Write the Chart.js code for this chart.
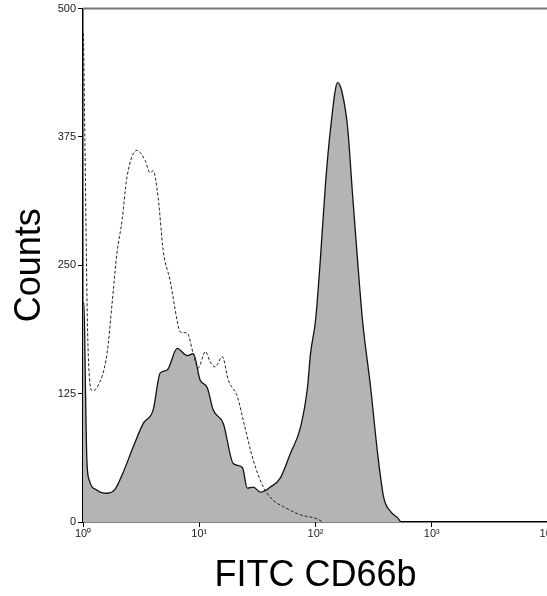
<!DOCTYPE html>
<html>
<head>
<meta charset="utf-8">
<script src="https://cdn.jsdelivr.net/npm/chart.js@4/dist/chart.umd.min.js"></script>
<style>
  html, body { margin: 0; padding: 0; background: #fff; overflow: hidden; }
  #wrap { position: absolute; left: 0; top: 0; width: 600px; height: 596px; }
</style>
</head>
<body>
<div id="wrap"><canvas id="hist"></canvas></div>
<script>
// CD66b stained sample (filled histogram)
const stainedX = [1.0, 1.02, 1.05, 1.08, 1.13, 1.32, 1.61, 1.89, 2.21, 2.7, 3.3, 4.01, 4.61, 5.3, 6.46, 7.88, 8.88, 10.2, 11.7, 13.2, 16.1, 19.6, 23.5, 25.9, 29.2, 33.6, 40.9, 49.9, 60.9, 74.2, 85.3, 90.6, 100, 110, 122, 135, 155, 168, 189, 208, 230, 254, 298, 342, 386, 443, 509, 541];
const stainedY = [213, 213, 130, 60, 41, 31, 28, 32, 48, 73, 96, 109, 145, 148, 169, 162, 164, 138, 131, 109, 96, 57, 53, 33, 34, 29, 34, 43, 67, 92, 131, 164, 196, 255, 330, 384, 428, 420, 384, 320, 255, 196, 131, 67, 24, 10, 4, 0];

// isotype control (dashed line)
const controlX = [1.01, 1.04, 1.1, 1.2, 1.32, 1.61, 1.78, 1.96, 2.17, 2.39, 2.92, 3.42, 3.78, 4.01, 4.43, 4.9, 5.62, 6.46, 6.86, 7.88, 8.88, 9.8, 11.3, 12.4, 13.7, 15.8, 17.8, 21.3, 23.9, 29.2, 35.6, 43.4, 53.0, 74.2, 104, 115];
const controlY = [476, 365, 177, 128, 131, 164, 213, 262, 294, 336, 362, 352, 340, 342, 316, 264, 235, 196, 185, 184, 164, 150, 166, 156, 151, 161, 138, 122, 99, 60, 34, 21, 15, 7, 3, 0];

const xTicks = [1, 10, 100, 1000, 10000];
const yTicks = [0, 125, 250, 375, 500];
const sup = ["\u2070", "\u00b9", "\u00b2", "\u00b3", "\u2074"];

const toPts = (xs, ys) => xs.map((x, i) => ({ x: x, y: ys[i] }));

const frame = {
  id: "frame",
  afterDraw(chart) {
    const a = chart.chartArea;
    const ctx = chart.ctx;
    ctx.save();
    ctx.strokeStyle = "#777";
    ctx.lineWidth = 2;
    ctx.beginPath();
    ctx.moveTo(a.left, a.top);
    ctx.lineTo(a.right, a.top);
    ctx.stroke();
    ctx.restore();
  }
};

const tickFont = { family: "Arial, 'Liberation Sans', sans-serif", size: 11 };
const titleFont = { family: "Arial, 'Liberation Sans', sans-serif", size: 36 };

new Chart(document.getElementById("hist"), {
  type: "line",
  data: {
    datasets: [
      {
        label: "Isotype",
        data: toPts(controlX, controlY),
        borderColor: "#222",
        borderWidth: 1,
        borderDash: [3, 2],
        fill: false,
        pointRadius: 0,
        cubicInterpolationMode: "monotone",
        order: 0
      },
      {
        label: "CD66b",
        data: toPts(stainedX, stainedY),
        borderColor: "#111",
        borderWidth: 1.3,
        backgroundColor: "#b4b4b4",
        fill: "origin",
        pointRadius: 0,
        cubicInterpolationMode: "monotone",
        order: 1
      }
    ]
  },
  options: {
    responsive: true,
    maintainAspectRatio: false,
    animation: false,
    layout: { padding: { left: 0, right: 52, top: 8, bottom: 0 } },
    plugins: { legend: { display: false }, tooltip: { enabled: false } },
    scales: {
      x: {
        type: "logarithmic",
        min: 1,
        max: 10000,
        afterBuildTicks(axis) { axis.ticks = xTicks.map(v => ({ value: v })); },
        afterFit(axis) { axis.height = 74; },
        ticks: {
          color: "#222",
          font: tickFont,
          padding: 0,
          maxRotation: 0,
          autoSkip: false,
          callback: (v) => "10" + sup[Math.round(Math.log10(v))]
        },
        grid: { drawOnChartArea: false, color: "#000", tickLength: 5 },
        border: { color: "#000", width: 1.5 },
        title: { display: true, text: "FITC CD66b", color: "#000", font: titleFont, padding: { top: 0, bottom: -2 } }
      },
      y: {
        min: 0,
        max: 500,
        afterBuildTicks(axis) { axis.ticks = yTicks.map(v => ({ value: v })); },
        afterFit(axis) { axis.width = 83; },
        ticks: { color: "#222", font: tickFont, padding: 2 },
        grid: { drawOnChartArea: false, color: "#000", tickLength: 5 },
        border: { color: "#000", width: 1.5 },
        title: { display: true, text: "Counts", color: "#000", font: titleFont, padding: { top: 8, bottom: 0 } }
      }
    }
  },
  plugins: [frame]
});
</script>
</body>
</html>
